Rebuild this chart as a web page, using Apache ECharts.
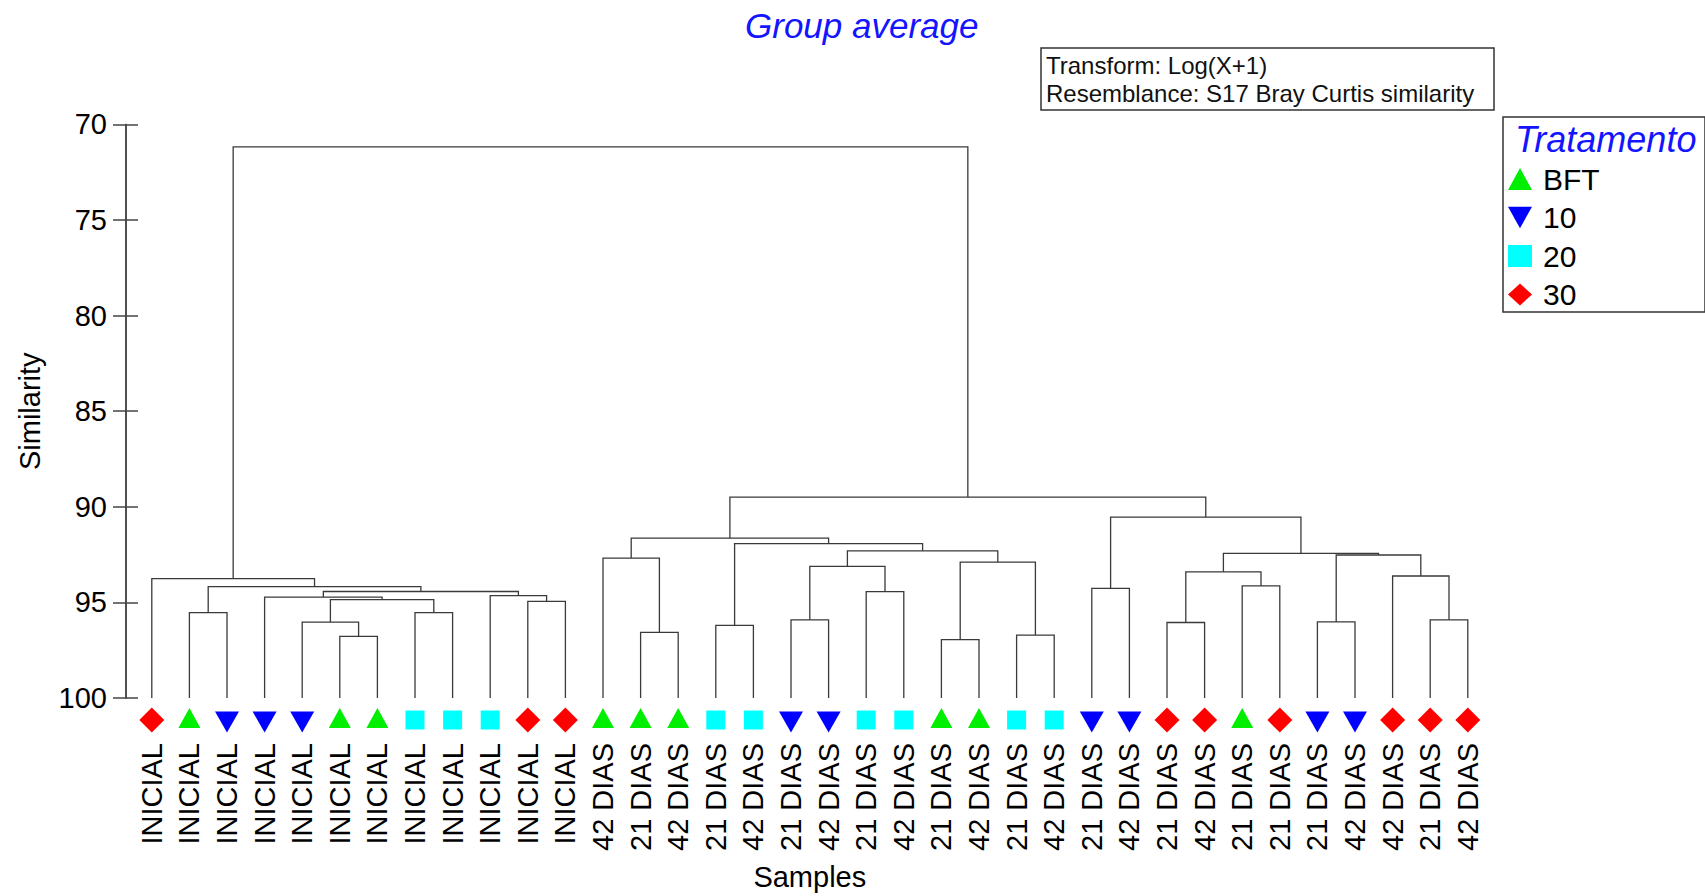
<!DOCTYPE html>
<html lang="en">

<head>
    <meta charset="UTF-8">
    <title>Group average</title>
    <style>
        html,
        body {
            margin: 0;
            padding: 0;
            width: 100%;
            height: 100%;
            background-color: #fff;
        }

        #chart {
            width: 1705px;
            height: 896px;
        }
    </style>
</head>

<body>
    <div id="chart"></div>
    <script src="https://cdn.jsdelivr.net/npm/echarts@6/dist/echarts.min.js"></script>
    <script>
        // leaf order of the dendrogram
        const leafLabels = [
            'INICIAL', 'INICIAL', 'INICIAL', 'INICIAL', 'INICIAL', 'INICIAL',
            'INICIAL', 'INICIAL', 'INICIAL', 'INICIAL', 'INICIAL', 'INICIAL',
            '42 DIAS', '21 DIAS', '42 DIAS', '21 DIAS', '42 DIAS', '21 DIAS',
            '42 DIAS', '21 DIAS', '42 DIAS', '21 DIAS', '42 DIAS', '21 DIAS',
            '42 DIAS', '21 DIAS', '42 DIAS', '21 DIAS', '42 DIAS', '21 DIAS',
            '21 DIAS', '21 DIAS', '42 DIAS', '42 DIAS', '21 DIAS', '42 DIAS'
        ]
        const leafGroups = [
            '30', 'BFT', '10', '10', '10', 'BFT', 'BFT', '20', '20', '20', '30', '30',
            'BFT', 'BFT', 'BFT', '20', '20', '10', '10', '20', '20', 'BFT', 'BFT', '20',
            '20', '10', '10', '30', '30', 'BFT', '30', '10', '10', '30', '30', '30'
        ]
        const groupNames = ['BFT', '10', '20', '30']

        // merges: [child a, child b, similarity]; leaves are 0..35, merge k becomes node 36 + k
        const merges = [
            [5, 6, 96.78], [4, 36, 96.03], [7, 8, 95.53], [37, 38, 94.86],
            [3, 39, 94.72], [10, 11, 94.95], [9, 41, 94.65], [40, 42, 94.43],
            [1, 2, 95.53], [44, 43, 94.17], [0, 45, 93.76],
            [13, 14, 96.57], [12, 47, 92.68], [15, 16, 96.20], [17, 18, 95.91],
            [19, 20, 94.44], [50, 51, 93.12], [21, 22, 96.95], [23, 24, 96.71],
            [53, 54, 92.89], [52, 55, 92.30], [49, 56, 91.93], [48, 57, 91.64],
            [25, 26, 94.27], [27, 28, 96.05], [29, 30, 94.14], [60, 61, 93.40],
            [31, 32, 96.02], [34, 35, 95.91], [33, 64, 93.62], [63, 65, 92.52],
            [62, 66, 92.44], [59, 67, 90.54], [58, 68, 89.49], [46, 69, 71.18]
        ]

        const yTicks = { min: 70, max: 100, step: 5 }

        const FONT = 'Liberation Sans, Arial, sans-serif'
        const LINE = '#3a3a3a'

        // node position (leaf units) and height for every node
        const pos = leafLabels.map((_, i) => i)
        const hgt = leafLabels.map(() => yTicks.max)
        const linkData = merges.map(([a, b, h]) => {
            const item = [pos[a], pos[b], hgt[a], hgt[b], h]
            pos.push((pos[a] + pos[b]) / 2)
            hgt.push(h)
            return item
        })

        const symbols = {
            'BFT': { symbol: 'triangle', size: [22, 20], color: '#00ee00', dy: 20 },
            '10': { symbol: 'path://M0,0 L10,0 L5,9 Z', size: [24, 21], color: '#0000ff', dy: 24 },
            '20': { symbol: 'rect', size: [19, 19], color: '#00ffff', dy: 22 },
            '30': { symbol: 'diamond', size: [25, 25], color: '#ff0000', dy: 22 }
        }

        const markerSeries = groupNames.map(g => ({
            name: g,
            type: 'scatter',
            xAxisIndex: 0,
            symbol: symbols[g].symbol,
            symbolSize: symbols[g].size,
            symbolOffset: [0, symbols[g].dy],
            itemStyle: { color: symbols[g].color, opacity: 1 },
            clip: false,
            silent: true,
            data: leafGroups.map((v, i) => v === g ? [i, yTicks.max] : null).filter(d => d)
        }))

        const linkSeries = {
            type: 'custom',
            xAxisIndex: 1,
            yAxisIndex: 0,
            silent: true,
            data: linkData,
            encode: { x: [0, 1], y: [2, 3, 4] },
            renderItem(params, api) {
                const xa = api.value(0), xb = api.value(1)
                const ha = api.value(2), hb = api.value(3), h = api.value(4)
                const pts = [[xa, ha], [xa, h], [xb, h], [xb, hb]].map(p => api.coord(p))
                return {
                    type: 'polyline',
                    shape: { points: pts },
                    style: { stroke: LINE, lineWidth: 1.3, fill: null }
                }
            }
        }

        const yAxisBase = {
            type: 'value',
            position: 'left',
            offset: 7,
            inverse: true,
            min: yTicks.min,
            max: yTicks.max,
            interval: yTicks.step,
            splitLine: { show: false },
            axisLine: { show: true, onZero: false, lineStyle: { color: '#444', width: 1.5 } }
        }

        const option = {
            animation: false,
            backgroundColor: '#fff',
            title: [{
                text: 'Group average',
                left: 740,
                top: 3,
                textStyle: { fontFamily: FONT, fontSize: 35, fontStyle: 'italic', fontWeight: 'normal', color: '#1414ff' }
            }, {
                text: 'Transform: Log(X+1)\nResemblance: S17 Bray Curtis similarity',
                left: 1041,
                top: 48,
                padding: [3, 20, 3, 5],
                borderColor: '#333',
                borderWidth: 1.5,
                textStyle: { fontFamily: FONT, fontSize: 24, fontWeight: 'normal', color: '#111', lineHeight: 28 }
            }, {
                text: 'Tratamento',
                left: 1510,
                top: 116,
                textStyle: { fontFamily: FONT, fontSize: 36, fontStyle: 'italic', fontWeight: 'normal', color: '#1414ff' }
            }],
            graphic: [{
                type: 'rect',
                shape: { x: 1503, y: 117, width: 202, height: 195 },
                style: { fill: 'none', stroke: '#333', lineWidth: 1.5 }
            }],
            legend: {
                orient: 'vertical',
                left: 1508,
                top: 164,
                itemWidth: 24,
                itemHeight: 22,
                itemGap: 8.5,
                padding: 0,
                data: groupNames,
                itemStyle: { opacity: 1 },
                textStyle: { fontFamily: FONT, fontSize: 30, color: '#000', padding: [0, 0, 0, 6] }
            },
            grid: { left: 133, right: 218.4, top: 124.4, bottom: 197.7 },
            xAxis: [{
                type: 'category',
                data: leafLabels,
                boundaryGap: true,
                axisLine: { show: false },
                axisTick: { show: false },
                axisLabel: { interval: 0, rotate: 90, margin: 45, fontFamily: FONT, fontSize: 29, color: '#000' },
                name: 'Samples',
                nameLocation: 'middle',
                nameGap: 164,
                nameTextStyle: { fontFamily: FONT, fontSize: 29, color: '#000' }
            }, {
                type: 'value',
                min: -0.5,
                max: leafLabels.length - 0.5,
                show: false
            }],
            yAxis: [Object.assign({}, yAxisBase, {
                axisTick: { show: true, length: 13, lineStyle: { color: '#444', width: 1.5 } },
                axisLabel: { margin: 19, fontFamily: FONT, fontSize: 29, color: '#000' },
                name: 'Similarity',
                nameLocation: 'middle',
                nameRotate: 90,
                nameGap: 82,
                nameTextStyle: { fontFamily: FONT, fontSize: 29, color: '#000' }
            }), Object.assign({}, yAxisBase, {
                axisTick: { show: true, inside: true, length: 12, lineStyle: { color: '#444', width: 1.5 } },
                axisLabel: { show: false }
            })],
            series: [linkSeries].concat(markerSeries)
        }

        const chart = echarts.init(document.getElementById('chart'), null, { renderer: 'svg' })
        chart.setOption(option)
    </script>
</body>

</html>
